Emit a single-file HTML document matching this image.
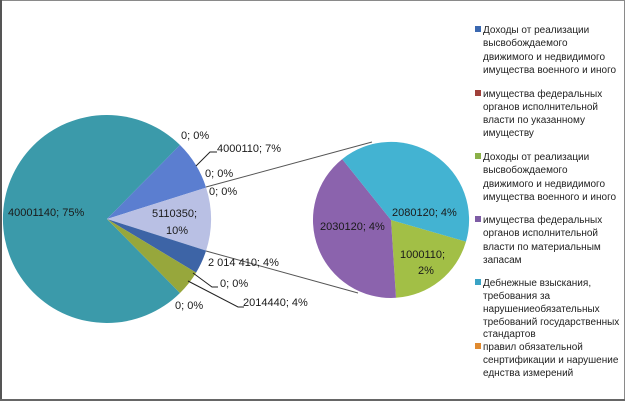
<!DOCTYPE html>
<html><head><meta charset="utf-8"><style>
html,body{margin:0;padding:0;background:#fff}
svg{display:block}
text{font-family:"Liberation Sans","DejaVu Sans",sans-serif}
</style></head><body>
<svg width="625" height="401" viewBox="0 0 625 401" xmlns="http://www.w3.org/2000/svg">
<rect x="0.5" y="0.5" width="624" height="400" fill="#fff" stroke="#8a8a8a"/>
<rect x="0" y="0" width="2" height="401" fill="#555"/>
<rect x="0" y="399" width="625" height="2" fill="#666"/>
<g stroke="none">
<path d="M107 219 L180 293 A104 104 0 1 1 180 145 Z" fill="#3b9aaa"/>
<path d="M107 219 L180 145 A104 104 0 0 1 206.1 187.6 Z" fill="#5b7ed0"/>
<path d="M107 219 L206.1 187.6 A104 104 0 0 1 206.1 250.6 Z" fill="#b9c0e4"/>
<path d="M107 219 L206.1 250.6 A104 104 0 0 1 196.1 272.6 Z" fill="#3d64a6"/>
<path d="M107 219 L196.1 272.6 A104 104 0 0 1 180 293 Z" fill="#97a73c"/>
</g>
<path d="M391 220 L466 241.6 A78 78 0 0 1 396 297.8 Z" fill="#a2bf46"/>
<path d="M391 220 L396 297.8 A78 78 0 0 1 342.2 159.1 Z" fill="#8b63ad"/>
<path d="M391 220 L342.2 159.1 A78 78 0 0 1 466 241.6 Z" fill="#43b3d2"/>
<line x1="206" y1="187" x2="372" y2="142" stroke="#555" stroke-width="1"/>
<line x1="206" y1="251" x2="358" y2="293" stroke="#555" stroke-width="1"/>
<polyline points="196,166 210,152 217,152" fill="none" stroke="#222"/>
<polyline points="193,273 212,287 218,287" fill="none" stroke="#222"/>
<polyline points="188,281 238,307 244,307" fill="none" stroke="#222"/>
<g font-size="11" fill="#1a1a1a">
<text x="181" y="139">0; 0%</text>
<text x="217" y="152">4000110; 7%</text>
<text x="205" y="177">0; 0%</text>
<text x="209" y="195">0; 0%</text>
<text x="8" y="216">40001140; 75%</text>
<text x="152" y="217">5110350;</text>
<text x="166" y="234">10%</text>
<text x="208" y="266">2 014 410; 4%</text>
<text x="220" y="287">0; 0%</text>
<text x="243" y="306">2014440; 4%</text>
<text x="175" y="309">0; 0%</text>
<text x="320" y="230">2030120; 4%</text>
<text x="392" y="216">2080120; 4%</text>
<text x="400" y="258">1000110;</text>
<text x="418" y="274">2%</text>
</g>
<g font-size="10" fill="#222">
<rect x="475" y="26" width="6" height="6" fill="#3b68b0"/>
<text x="483" y="33">Доходы от реализации</text>
<text x="483" y="46">высвобождаемого</text>
<text x="483" y="60">движимого и недвидимого</text>
<text x="483" y="73">имущества военного и иного</text>
<rect x="475" y="90" width="6" height="6" fill="#a0403a"/>
<text x="483" y="97">имущества федеральных</text>
<text x="483" y="110">органов исполнительной</text>
<text x="483" y="123">власти по указанному</text>
<text x="483" y="136">имуществу</text>
<rect x="475" y="153" width="6" height="6" fill="#8ab048"/>
<text x="483" y="160">Доходы от реализации</text>
<text x="483" y="173">высвобождаемого</text>
<text x="483" y="187">движимого и недвидимого</text>
<text x="483" y="200">имущества военного и иного</text>
<rect x="475" y="216" width="6" height="6" fill="#7e5ca5"/>
<text x="483" y="223">имущества федеральных</text>
<text x="483" y="236">органов исполнительной</text>
<text x="483" y="250">власти по материальным</text>
<text x="483" y="263">запасам</text>
<rect x="475" y="279" width="6" height="6" fill="#3aa3c5"/>
<text x="483" y="286">Дебнежные взыскания,</text>
<text x="483" y="299">требования за</text>
<text x="483" y="312">нарушениеобязательных</text>
<text x="483" y="325">требований государственных</text>
<text x="483" y="337">стандартов</text>
<rect x="475" y="343" width="6" height="6" fill="#e08a30"/>
<text x="483" y="350">правил обязательной</text>
<text x="483" y="363">сенртификации и нарушение</text>
<text x="483" y="376">еднства измерений</text>
</g>
</svg>
</body></html>
